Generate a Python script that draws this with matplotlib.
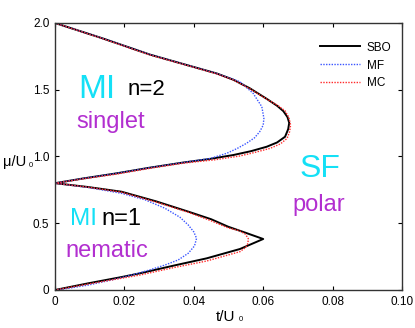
import matplotlib
matplotlib.use("Agg")
import matplotlib.pyplot as plt

# phase boundaries (t/U0, mu/U0)
# n=2 lobe, from (0, 2.0) round the tip back to (0, 0.8)
sbo2_t = [0, 0.0137, 0.0274, 0.0380, 0.0466, 0.0514, 0.0562, 0.0610, 0.0640, 0.0658, 0.0670, 0.0675,
          0.0672, 0.0663, 0.0640, 0.0610, 0.0565, 0.0514, 0.0447, 0.0370, 0.0270, 0.0178, 0.0080, 0]
sbo2_mu = [2.0, 1.885, 1.763, 1.685, 1.622, 1.575, 1.510, 1.432, 1.380, 1.340, 1.295, 1.252,
           1.205, 1.148, 1.105, 1.073, 1.040, 1.011, 0.982, 0.955, 0.915, 0.874, 0.835, 0.8]
mf2_t = [0, 0.0137, 0.0274, 0.0380, 0.0466, 0.0533, 0.0571, 0.0596, 0.0602, 0.0600, 0.0590, 0.0575,
         0.0552, 0.0525, 0.0495, 0.0447, 0.0370, 0.0270, 0.0178, 0.0080, 0]
mf2_mu = [2.0, 1.885, 1.763, 1.685, 1.622, 1.560, 1.473, 1.373, 1.286, 1.235, 1.186, 1.140,
          1.099, 1.060, 1.024, 0.985, 0.955, 0.915, 0.874, 0.835, 0.8]
mc2_t = [0, 0.0137, 0.0274, 0.0380, 0.0466, 0.0514, 0.0562, 0.0610, 0.0642, 0.0663, 0.0674, 0.0679,
         0.0676, 0.0669, 0.0650, 0.0620, 0.0575, 0.0533, 0.0460, 0.0370, 0.0270, 0.0178, 0.0080, 0]
mc2_mu = [2.0, 1.883, 1.760, 1.683, 1.619, 1.573, 1.507, 1.430, 1.382, 1.342, 1.292, 1.236,
          1.185, 1.136, 1.095, 1.061, 1.030, 1.004, 0.975, 0.950, 0.910, 0.868, 0.832, 0.8]

# n=1 lobe, from (0, 0.8) round the tip down to (0, 0)
sbo1_t = [0, 0.0096, 0.0192, 0.0290, 0.0384, 0.0450, 0.0499, 0.0550, 0.0600,
          0.0533, 0.0437, 0.0341, 0.0245, 0.0192, 0.0096, 0]
sbo1_mu = [0.8, 0.771, 0.736, 0.665, 0.587, 0.530, 0.474, 0.428, 0.382,
           0.307, 0.237, 0.182, 0.125, 0.097, 0.050, 0]
mf1_t = [0, 0.0096, 0.0192, 0.0260, 0.0317, 0.0360, 0.0384, 0.0400, 0.0408, 0.0402, 0.0384,
         0.0355, 0.0317, 0.0270, 0.0221, 0.0160, 0.0096, 0.0040, 0]
mf1_mu = [0.8, 0.768, 0.724, 0.675, 0.612, 0.545, 0.487, 0.435, 0.387, 0.330, 0.275,
          0.225, 0.187, 0.148, 0.112, 0.073, 0.037, 0.013, 0]
mc1_t = [0, 0.0096, 0.0192, 0.0290, 0.0384, 0.0450, 0.0499, 0.0530, 0.0548, 0.0557, 0.0556, 0.0550,
         0.0533, 0.0437, 0.0341, 0.0245, 0.0192, 0.0096, 0]
mc1_mu = [0.8, 0.770, 0.733, 0.660, 0.582, 0.518, 0.465, 0.445, 0.420, 0.385, 0.350, 0.320,
          0.287, 0.217, 0.167, 0.112, 0.088, 0.045, 0]

x_ticks = [0, 0.02, 0.04, 0.06, 0.08, 0.10]
x_labels = ["0", "0.02", "0.04", "0.06", "0.08", "0.10"]
y_ticks = [0, 0.5, 1.0, 1.5, 2.0]
y_labels = ["0", "0.5", "1.0", "1.5", "2.0"]

plt.rcParams["font.family"] = ["Liberation Sans", "DejaVu Sans"]

cyan = "#14e0f6"
purple = "#b22fd0"

fig = plt.figure(figsize=(4.15, 3.28), dpi=100)
ax = fig.add_axes([0.1325, 0.1159, 0.8362, 0.814])

ax.plot(sbo2_t, sbo2_mu, color="black", lw=1.4, label="SBO")
ax.plot(sbo1_t, sbo1_mu, color="black", lw=1.4)
ax.plot(mf2_t, mf2_mu, color="#3a55ff", lw=1.0, ls=(0, (1, 1)), label="MF")
ax.plot(mf1_t, mf1_mu, color="#3a55ff", lw=1.0, ls=(0, (1, 1)))
ax.plot(mc2_t, mc2_mu, color="#ff2a2a", lw=1.0, ls=(0, (1, 1)), label="MC")
ax.plot(mc1_t, mc1_mu, color="#ff2a2a", lw=1.0, ls=(0, (1, 1)))

ax.set_xlim(0, 0.10)
ax.set_ylim(0, 2.0)
ax.set_xticks(x_ticks)
ax.set_xticklabels(x_labels)
ax.set_yticks(y_ticks)
ax.set_yticklabels(y_labels)
ax.tick_params(direction="in", top=True, right=True, length=3, labelsize=8.5, pad=4)
for s in ax.spines.values():
    s.set_color("#333333")
    s.set_linewidth(1.0)

ax.text(0.0066, 1.438, "MI", color=cyan, fontsize=24)
ax.text(0.0210, 1.461, "n=2", color="black", fontsize=16)
ax.text(0.0063, 1.213, "singlet", color=purple, fontsize=17)
ax.text(0.0043, 0.487, "MI", color=cyan, fontsize=17.5)
ax.text(0.0135, 0.487, "n=1", color="black", fontsize=17)
ax.text(0.0029, 0.249, "nematic", color=purple, fontsize=17)
ax.text(0.0706, 0.846, "SF", color=cyan, fontsize=23)
ax.text(0.0683, 0.588, "polar", color=purple, fontsize=17)

# axis labels with a tiny subscript, as in the original
fig.text(216 / 415, 1 - 321 / 328, "t/U", fontsize=11, ha="left", va="baseline")
fig.text(239 / 415, 1 - 321 / 328, "0", fontsize=5.5, ha="left", va="baseline")
fig.text(3 / 415, 1 - 166 / 328, "μ/U", fontsize=10.5, ha="left", va="baseline")
fig.text(29 / 415, 1 - 167 / 328, "0", fontsize=5.5, ha="left", va="baseline")

ax.legend(loc="upper right", bbox_to_anchor=(1.0, 0.97), frameon=False, fontsize=8.5,
          handlelength=3.4, labelspacing=0.5, handletextpad=0.6)

fig.savefig("out.png", dpi=100)
